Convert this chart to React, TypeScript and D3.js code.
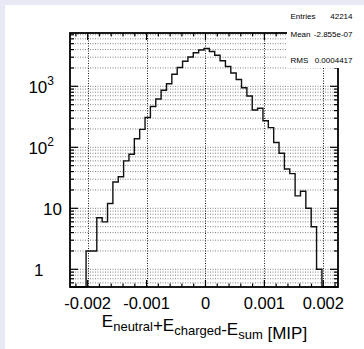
import { useEffect, useRef } from 'react';
import * as d3 from 'd3';

// histogram: 50 equal bins over [binLow, binHigh]
const binLow = -0.0023;
const binHigh = 0.00225;
const binCounts = [
  0, 0, 0, 2, 2, 7, 6, 12, 27, 33, 60, 77, 138, 197, 308, 467, 619, 863, 1104, 1573, 2033, 2578, 3022, 3541,
  3938, 4166, 3718, 3234, 2618, 2112, 1652, 1292, 948, 693, 409, 436, 273, 210, 120, 80, 44, 37, 16, 19, 10,
  5, 1, 0, 0, 0,
];

const xTicks = [-0.002, -0.001, 0, 0.001, 0.002];
const xTickLabels = ['-0.002', '-0.001', '0', '0.001', '0.002'];
const yDecades = [1, 10, 100, 1000];
const yDecadeLabels = [
  { base: '1', exp: '' },
  { base: '10', exp: '' },
  { base: '10', exp: '2' },
  { base: '10', exp: '3' },
];

const statNames = ['Entries', 'Mean', 'RMS'];
const statValues = ['42214', '-2.855e-07', '0.0004417'];

const yMin = 0.513;
const yMax = 7480;

export default function App() {
  const ref = useRef<SVGSVGElement>(null);

  useEffect(() => {
    if (!ref.current) return;
    const svg = d3.select(ref.current);
    svg.selectAll('*').remove();

    const W = 364;
    const H = 349;
    const frame = { left: 70, right: 338, top: 33, bottom: 287 };
    const font = "'Liberation Sans', Arial, Helvetica, sans-serif";

    svg.append('rect').attr('width', W).attr('height', H).attr('fill', '#e9e9f6');
    svg.append('rect').attr('x', 5).attr('y', 5).attr('width', W - 5).attr('height', H - 5).attr('fill', '#fff');

    const x = d3.scaleLinear().domain([binLow, binHigh]).range([frame.left, frame.right]);
    const y = d3.scaleLog().domain([yMin, yMax]).range([frame.bottom, frame.top]);

    // all log ticks (1..9 x 10^n) inside the frame
    const logTicks: { v: number; major: boolean }[] = [];
    for (let e = -1; e <= 3; e++) {
      for (let m = 1; m <= 9; m++) {
        const v = m * Math.pow(10, e);
        if (v > yMin && v < yMax) logTicks.push({ v, major: m === 1 });
      }
    }
    const minorX = d3.range(-22, 23, 2).map((d) => d * 0.0001);

    // grid
    const grid = svg.append('g').attr('stroke', '#000').attr('stroke-width', 0.9).attr('stroke-dasharray', '1,1.5');
    grid
      .selectAll('line.h')
      .data(logTicks)
      .enter()
      .append('line')
      .attr('x1', frame.left)
      .attr('x2', frame.right)
      .attr('y1', (d) => y(d.v))
      .attr('y2', (d) => y(d.v))
      .attr('stroke-opacity', 0.55);
    grid
      .selectAll('line.v')
      .data(xTicks)
      .enter()
      .append('line')
      .attr('x1', (d) => Math.round(x(d)) + 0.5)
      .attr('x2', (d) => Math.round(x(d)) + 0.5)
      .attr('y1', frame.top)
      .attr('y2', frame.bottom);

    // histogram outline
    const w = (binHigh - binLow) / binCounts.length;
    const pts: [number, number][] = [];
    binCounts.forEach((c, i) => {
      const yy = c > 0 ? y(c) : frame.bottom;
      pts.push([x(binLow + i * w), yy]);
      pts.push([x(binLow + (i + 1) * w), yy]);
    });
    svg
      .append('path')
      .attr('d', d3.line()(pts))
      .attr('fill', 'none')
      .attr('stroke', '#111')
      .attr('stroke-width', 1.4);

    // ticks
    const ticks = svg.append('g').attr('stroke', '#000').attr('stroke-width', 1.2);
    minorX.forEach((v) => {
      const major = xTicks.some((t) => Math.abs(t - v) < 1e-9);
      const len = major ? 7 : 3.5;
      const xx = x(v);
      ticks.append('line').attr('x1', xx).attr('x2', xx).attr('y1', frame.bottom).attr('y2', frame.bottom - len);
      ticks.append('line').attr('x1', xx).attr('x2', xx).attr('y1', frame.top).attr('y2', frame.top + len);
    });
    logTicks.forEach((t) => {
      const len = t.major ? 8 : 4;
      const yy = y(t.v);
      ticks.append('line').attr('x1', frame.left).attr('x2', frame.left + len).attr('y1', yy).attr('y2', yy);
      ticks.append('line').attr('x1', frame.right).attr('x2', frame.right - len).attr('y1', yy).attr('y2', yy);
    });

    svg
      .append('rect')
      .attr('x', frame.left)
      .attr('y', frame.top)
      .attr('width', frame.right - frame.left)
      .attr('height', frame.bottom - frame.top)
      .attr('fill', 'none')
      .attr('stroke', '#000')
      .attr('stroke-width', 1.8);

    // x labels
    svg
      .selectAll('text.xl')
      .data(xTicks)
      .enter()
      .append('text')
      .attr('x', (d) => x(d))
      .attr('y', 308.5)
      .attr('text-anchor', 'middle')
      .style('font-family', font)
      .style('font-size', '16.5px')
      .text((d, i) => xTickLabels[i]);

    // y labels
    yDecades.forEach((v, i) => {
      const lab = yDecadeLabels[i];
      const ax = lab.exp ? 54 : v === 1 ? 43.5 : 62;
      const t = svg
        .append('text')
        .attr('x', ax)
        .attr('y', y(v) + 7)
        .attr('text-anchor', 'end')
        .style('font-family', font)
        .style('font-size', '17px');
      t.append('tspan').text(lab.base);
      if (lab.exp) t.append('tspan').attr('dy', -8).style('font-size', '12px').text(lab.exp);
    });

    // axis title
    const title = svg
      .append('text')
      .attr('x', 204.5)
      .attr('y', 327)
      .attr('text-anchor', 'middle')
      .style('font-family', font)
      .style('font-size', '17px');
    const parts: [string, string][] = [
      ['E', 'neutral'],
      ['+E', 'charged'],
      ['-E', 'sum'],
    ];
    parts.forEach(([main, sub]) => {
      title.append('tspan').text(main);
      title.append('tspan').attr('dy', 4).style('font-size', '13px').text(sub);
      title.append('tspan').attr('dy', -4).text('');
    });
    title.append('tspan').text(' [MIP]');

    // stats box
    svg.append('rect').attr('x', 287).attr('y', 5).attr('width', W - 287).attr('height', 63).attr('fill', '#fff');
    const rowY = [18.5, 36.5, 63];
    statNames.forEach((n, i) => {
      svg
        .append('text')
        .attr('x', 290.5)
        .attr('y', rowY[i])
        .style('font-family', font)
        .style('font-size', '8px')
        .text(n);
      svg
        .append('text')
        .attr('x', 352.5)
        .attr('y', rowY[i])
        .attr('text-anchor', 'end')
        .style('font-family', font)
        .style('font-size', '8px')
        .text(statValues[i]);
    });

    return () => {
      svg.selectAll('*').remove();
    };
  }, []);

  return (
    <svg
      ref={ref}
      width={364}
      height={349}
      style={{ position: 'absolute', left: 0, top: 0, display: 'block' }}
    />
  );
}
